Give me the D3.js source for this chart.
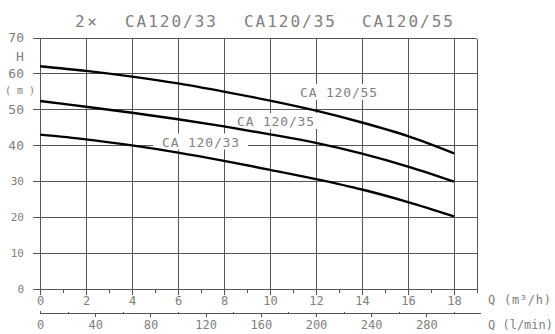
<!DOCTYPE html>
<html>
<head>
<meta charset="utf-8">
<script src="https://cdn.jsdelivr.net/npm/d3@7"></script>
<style>
  html, body { margin: 0; padding: 0; background: #fff; }
  svg { display: block; }
  text { font-family: "DejaVu Sans Mono", "Liberation Mono", monospace; fill: #808080; }
</style>
</head>
<body>
<svg id="chart" width="555" height="334"></svg>
<script>
// Flow rate (m³/h) and pump head (m) for each pump pair
const flow = [0, 2, 4, 6, 8, 10, 12, 14, 16, 18];
const head55 = [62.0, 60.7, 59.1, 57.2, 54.9, 52.4, 49.6, 46.3, 42.5, 37.7];
const head35 = [52.3, 50.7, 49.0, 47.2, 45.2, 43.0, 40.6, 37.6, 34.0, 29.8];
const head33 = [42.9, 41.6, 39.9, 37.9, 35.6, 33.1, 30.5, 27.6, 24.1, 20.1];
const seriesNames = ["CA 120/55", "CA 120/35", "CA 120/33"];
const titleParts = ["2×", "CA120/33", "CA120/35", "CA120/55"];

const qTicks = [0, 2, 4, 6, 8, 10, 12, 14, 16, 18];
const qMinorTicks = [1, 3, 5, 7, 9, 11, 13, 15, 17, 19];
const lminTicks = [0, 40, 80, 120, 160, 200, 240, 280];
const lminMinorTicks = [20, 60, 100, 140, 180, 220, 260, 300];
const hTicks = [0, 10, 20, 30, 40, 50, 60, 70];

const svg = d3.select("#chart");

const x = d3.scaleLinear().domain([0, 19]).range([40, 477]);
const y = d3.scaleLinear().domain([0, 70]).range([288.5, 37.5]);
// litres per minute on the same pixel span as m³/h
const xl = d3.scaleLinear().domain([0, 19 * 1000 / 60]).range([40, 477]);

const gridColor = "#555";

// Grid
const grid = svg.append("g").attr("stroke", gridColor).attr("stroke-width", 1).attr("shape-rendering", "crispEdges");
grid.selectAll("line.h").data(hTicks).join("line")
  .attr("x1", 33).attr("x2", x(19))
  .attr("y1", d => Math.round(y(d)) + 0.5).attr("y2", d => Math.round(y(d)) + 0.5);
grid.selectAll("line.v").data(qTicks.concat([19])).join("line")
  .attr("x1", d => Math.round(x(d)) + 0.5).attr("x2", d => Math.round(x(d)) + 0.5)
  .attr("y1", Math.round(y(70)) + 0.5).attr("y2", Math.round(y(0)) + 0.5);

// m³/h axis
const axisQ = svg.append("g").attr("transform", `translate(0,${Math.round(y(0)) + 0.5})`)
  .call(d3.axisBottom(x).tickValues(qTicks).tickSize(5).tickSizeOuter(0).tickFormat(d3.format("d")));
const axisQMinor = svg.append("g").attr("transform", `translate(0,${Math.round(y(0)) + 0.5})`)
  .call(d3.axisBottom(x).tickValues(qMinorTicks).tickSize(3).tickSizeOuter(0).tickFormat(""));
axisQMinor.select(".domain").remove();

// l/min axis
const axisL = svg.append("g").attr("transform", "translate(0,313.5)")
  .call(d3.axisBottom(xl).tickValues(lminTicks).tickSize(3).tickSizeOuter(0).tickFormat(d3.format("d")));
axisL.select(".domain").attr("d", `M40,0H481`);
const axisLMinor = svg.append("g").attr("transform", "translate(0,313.5)")
  .call(d3.axisBottom(xl).tickValues(lminMinorTicks).tickSize(-2).tickSizeOuter(0).tickFormat(""));
axisLMinor.select(".domain").remove();
axisL.selectAll(".tick").filter(d => d === 0).select("line").attr("y2", -3);

[axisQ, axisQMinor, axisL, axisLMinor].forEach(g => {
  g.attr("font-family", null).attr("font-size", null);
  g.selectAll("path, line").attr("stroke", gridColor).attr("shape-rendering", "crispEdges");
  g.selectAll("text").attr("fill", null).attr("dy", null).attr("y", 15.5)
    .style("font-size", "12px");
});
axisQ.select(".domain").attr("d", `M33,0H${x(19)}`);

// Head labels on the left
svg.append("g").selectAll("text").data(hTicks).join("text")
  .attr("x", 24).attr("y", d => y(d) + (d >= 40 ? 4.5 : 4))
  .attr("text-anchor", "end")
  .style("font-size", d => d >= 40 ? "13px" : "11px")
  .text(d => d);
svg.append("text").attr("x", 20).attr("y", 61).attr("text-anchor", "middle").style("font-size", "13px").text("H");
svg.append("text").attr("x", 20).attr("y", 94).attr("text-anchor", "middle").style("font-size", "10px").text("( m )");

// Axis units
svg.append("text").attr("x", 488).attr("y", 304).style("font-size", "12px")
  .attr("textLength", 63).attr("lengthAdjust", "spacing").text("Q (m³/h)");
svg.append("text").attr("x", 488).attr("y", 328.5).style("font-size", "12px")
  .attr("textLength", 65).attr("lengthAdjust", "spacing").text("Q (l/min)");

// Title
const titlePos = [[75, 22], [125, 91], [244, 91], [362, 91]];
svg.append("g").selectAll("text").data(titleParts).join("text")
  .attr("x", (d, i) => titlePos[i][0]).attr("y", 27)
  .attr("textLength", (d, i) => titlePos[i][1]).attr("lengthAdjust", "spacing")
  .style("font-size", "16px")
  .text(d => d);

// Curves
const series = [head55, head35, head33].map((h, i) => ({
  name: seriesNames[i],
  points: flow.map((q, j) => [q, h[j]])
}));
const labelPos = [[300, 97], [237, 126], [162, 146.5]];
const labelWidth = 77;

// white backing behind curve labels
svg.append("g").selectAll("rect").data(series).join("rect")
  .attr("x", (d, i) => labelPos[i][0] - 9).attr("y", (d, i) => labelPos[i][1] - 13)
  .attr("width", labelWidth + 18).attr("height", 16)
  .attr("fill", "#fff");

const line = d3.line().x(d => x(d[0])).y(d => y(d[1])).curve(d3.curveCatmullRom.alpha(0.5));
svg.append("g").selectAll("path").data(series).join("path")
  .attr("d", d => line(d.points))
  .attr("fill", "none").attr("stroke", "#000").attr("stroke-width", 2.4)
  .attr("stroke-linecap", "butt");

svg.append("g").selectAll("text").data(series).join("text")
  .attr("x", (d, i) => labelPos[i][0]).attr("y", (d, i) => labelPos[i][1])
  .attr("textLength", labelWidth).attr("lengthAdjust", "spacing")
  .style("font-size", "13px")
  .text(d => d.name);
</script>
</body>
</html>
